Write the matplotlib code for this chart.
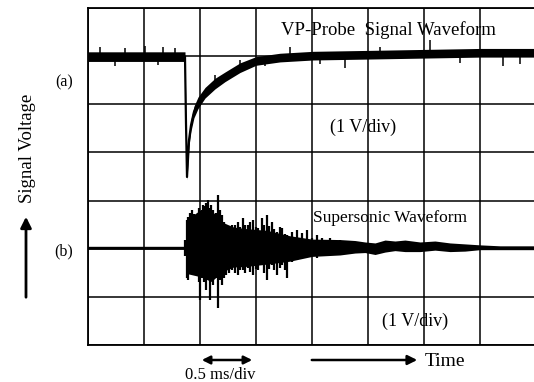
import matplotlib.pyplot as plt
from matplotlib.patches import FancyArrowPatch

plt.rcParams['font.family'] = ['Liberation Serif', 'DejaVu Serif']

# (a) VP-probe signal: time in ms, band edges in V (1 V/div)
a_t = [0.0, 0.866, 0.875, 0.884, 0.902, 0.92, 0.946, 0.982, 1.045, 1.134, 1.223,
       1.357, 1.5, 1.714, 2.009, 2.518, 3.009, 3.5, 4.0]
a_mid = [5.99, 5.99, 4.6, 3.49, 4.26, 4.57, 4.84, 5.03, 5.24, 5.43, 5.57,
         5.76, 5.90, 5.97, 6.01, 6.03, 6.05, 6.07, 6.07]
a_up = [6.09, 6.09, 4.7, 3.55, 4.38, 4.69, 4.96, 5.15, 5.35, 5.54, 5.67,
        5.86, 5.99, 6.06, 6.10, 6.12, 6.14, 6.16, 6.16]
a_lo = [5.89, 5.89, 4.5, 3.43, 4.14, 4.45, 4.72, 4.91, 5.13, 5.32, 5.47,
        5.66, 5.81, 5.88, 5.92, 5.94, 5.96, 5.98, 5.98]

# noise spikes on (a): time, from, to
a_sp_t = [0.107, 0.241, 0.330, 0.509, 0.625, 0.670, 0.777, 1.134, 1.357, 1.580,
          1.804, 2.071, 2.295, 2.607, 3.054, 3.321, 3.705, 3.857]
a_sp_from = [5.99, 5.99, 5.99, 5.99, 5.99, 5.99, 5.99, 5.43, 5.76, 5.98,
             6.0, 6.01, 6.02, 6.03, 6.05, 6.06, 6.07, 6.07]
a_sp_to = [6.20, 5.80, 6.17, 6.22, 5.82, 6.20, 6.17, 5.60, 5.93, 5.80,
           6.20, 5.84, 5.76, 6.20, 6.34, 5.86, 5.80, 5.84]

# (b) supersonic waveform: band edges in V
b_t = [0.0, 0.866, 0.89, 1.0, 1.1, 1.2, 1.3, 1.4, 1.6, 1.8, 2.0, 2.25, 2.384, 2.473,
       2.563, 2.652, 2.741, 2.83, 2.964, 3.098, 3.232, 3.366, 3.5, 3.679, 4.0]
b_up = [2.05, 2.05, 2.62, 2.80, 2.80, 2.55, 2.45, 2.42, 2.38, 2.27, 2.20, 2.19, 2.17,
        2.14, 2.12, 2.18, 2.16, 2.18, 2.14, 2.16, 2.12, 2.10, 2.08, 2.06, 2.06]
b_lo = [1.99, 1.99, 1.48, 1.42, 1.32, 1.52, 1.62, 1.63, 1.68, 1.74, 1.84, 1.87, 1.91,
        1.92, 1.88, 1.93, 1.96, 1.94, 1.94, 1.97, 1.94, 1.95, 1.98, 1.98, 1.98]

# burst spikes on (b): time, top, bottom
b_sp_t = [0.866, 0.88, 0.893, 0.91, 0.929, 0.95, 0.973, 0.987, 1.0, 1.014, 1.027,
          1.04, 1.054, 1.071, 1.089, 1.10, 1.116, 1.14, 1.161, 1.18, 1.196, 1.214,
          1.232, 1.26, 1.286, 1.31, 1.339, 1.36, 1.384, 1.405, 1.429, 1.45, 1.473,
          1.50, 1.518, 1.554, 1.575, 1.598, 1.62, 1.643, 1.665, 1.688, 1.71, 1.732,
          1.755, 1.777, 1.821, 1.866, 1.911, 1.955, 2.0, 2.045, 2.089, 2.161, 2.25]
b_sp_top = [2.18, 2.60, 2.66, 2.75, 2.81, 2.72, 2.70, 2.85, 2.56, 2.80, 2.91,
            2.88, 2.95, 3.01, 2.85, 2.90, 2.81, 2.75, 3.12, 2.80, 2.70, 2.55,
            2.35, 2.45, 2.49, 2.50, 2.56, 2.45, 2.64, 2.50, 2.49, 2.55, 2.60,
            2.45, 2.43, 2.64, 2.50, 2.70, 2.48, 2.56, 2.40, 2.35, 2.45, 2.43,
            2.30, 2.29, 2.35, 2.39, 2.33, 2.39, 2.22, 2.29, 2.22, 2.22, 2.18]
b_sp_bot = [1.85, 1.40, 1.35, 1.50, 1.56, 1.45, 1.66, 1.30, 0.94, 1.40, 1.46,
            1.30, 1.14, 1.73, 0.94, 1.35, 1.25, 1.40, 0.77, 1.35, 1.25, 1.40,
            1.46, 1.50, 1.56, 1.50, 1.46, 1.55, 1.56, 1.50, 1.60, 1.52, 1.46,
            1.58, 1.56, 1.66, 1.50, 1.35, 1.58, 1.66, 1.55, 1.46, 1.60, 1.66,
            1.55, 1.39, 1.73, 1.77, 1.81, 1.83, 1.87, 1.81, 1.87, 1.89, 1.87]

W, H = 534, 382


def fx(px):
    return px / W


def fy(py):
    return 1 - py / H


fig = plt.figure(figsize=(W / 100, H / 100), dpi=100)
ax = fig.add_axes([fx(88), fy(345), 448 / W, 337 / H])
ax.set_xlim(0, 4)
ax.set_ylim(0, 7)
ax.set_xticks([i * 0.5 for i in range(9)])
ax.set_yticks(range(8))
ax.tick_params(length=0, labelbottom=False, labelleft=False)
ax.grid(True, color='black', linewidth=1.1)
for s in ax.spines.values():
    s.set_linewidth(1.3)

ax.fill_between(a_t, a_lo, a_up, color='black', linewidth=0)
ax.plot(a_t, a_mid, color='black', linewidth=1.6)
ax.vlines(a_sp_t, a_sp_from, a_sp_to, color='black', linewidth=1.1)

ax.fill_between(b_t, b_lo, b_up, color='black', linewidth=0)
ax.vlines(b_sp_t, b_sp_bot, b_sp_top, color='black', linewidth=1.6)

ax.text(2.68, 6.55, 'VP-Probe  Signal Waveform', fontsize=13.5, ha='center', va='center')
ax.text(2.46, 4.53, '(1 V/div)', fontsize=13, ha='center', va='center')
ax.text(2.70, 2.64, 'Supersonic Waveform', fontsize=12.5, ha='center', va='center')
ax.text(2.92, 0.50, '(1 V/div)', fontsize=13, ha='center', va='center')

# outside labels
fig.text(fx(28), fy(148), 'Signal Voltage', rotation=90, fontsize=13.5, ha='center', va='center')
fig.text(fx(64), fy(82), '(a)', fontsize=11.5, ha='center', va='center')
fig.text(fx(64), fy(251), '(b)', fontsize=11.5, ha='center', va='center')
fig.text(fx(220), fy(375), '0.5 ms/div', fontsize=12, ha='center', va='center')
fig.text(fx(425), fy(362), 'Time', fontsize=14, ha='left', va='center')

fig.add_artist(FancyArrowPatch(
    (fx(26), fy(300)), (fx(26), fy(214)), transform=fig.transFigure,
    arrowstyle='-|>', mutation_scale=16, color='black', linewidth=2))
fig.add_artist(FancyArrowPatch(
    (fx(199), fy(360)), (fx(255), fy(360)), transform=fig.transFigure,
    arrowstyle='<|-|>', mutation_scale=12, color='black', linewidth=1.8))
fig.add_artist(FancyArrowPatch(
    (fx(309), fy(360)), (fx(420), fy(360)), transform=fig.transFigure,
    arrowstyle='-|>', mutation_scale=14, color='black', linewidth=1.8))

fig.savefig('out.png', dpi=100)
